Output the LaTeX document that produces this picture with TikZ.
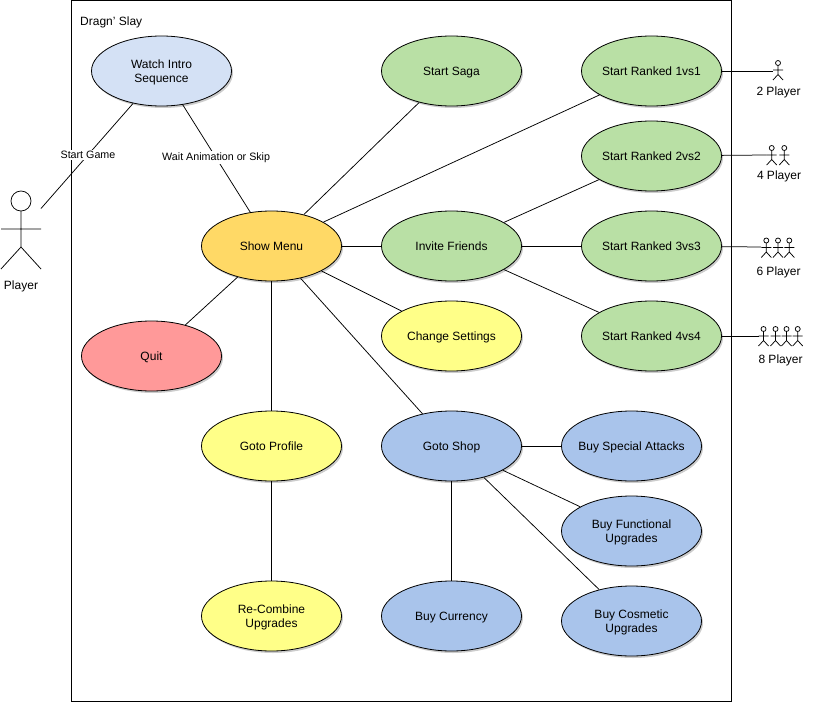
\documentclass[tikz,border=0pt]{standalone}
\usepackage{fontspec}
\setmainfont{Liberation Sans}
\definecolor{cintro}{HTML}{D4E1F5}
\definecolor{cgreen}{HTML}{B9E0A5}
\definecolor{cyellow}{HTML}{FFFF88}
\definecolor{corange}{HTML}{FFD966}
\definecolor{cred}{HTML}{FF9999}
\definecolor{cblue}{HTML}{A9C4EB}
\newcommand{\actorfig}[4]{% x, head y, half-width/5 scale, name
  \begin{scope}[shift={(#1,#2)},x=#3pt,y=-#3pt]
    \draw[actorline] (0,0) circle[radius=2.5];
    \draw[actorline] (0,2.5) -- (0,11.5) (-5,7) -- (5,7) (-5,17) -- (0,11.5) -- (5,17);
  \end{scope}}
\newcommand{\firstline}{\rule{0pt}{11pt}}
\tikzset{
  x=1pt,y=-1pt,
  usecase/.style={ellipse,draw=black,line width=0.8pt,minimum width=140pt,minimum height=70pt,inner sep=0pt,font=\fontsize{12}{14}\selectfont,text=black},
  onerow/.style={usecase,text height=8.6pt,text depth=0pt},
  tworow/.style={usecase,align=center},
  link/.style={draw=black,line width=0.75pt},
  actorline/.style={draw=black,line width=0.75pt},
  edgelabel/.style={fill=white,inner sep=1.5pt,font=\fontsize{10.7}{13}\selectfont,text=black},
  caption/.style={font=\fontsize{12}{14}\selectfont,text=black,inner sep=0pt},
  shade0/.style={fill=black,fill opacity=0.2,draw=none,ellipse,minimum width=140pt,minimum height=70pt,inner sep=0pt},
}
\usetikzlibrary{shapes.geometric}
\begin{document}
\begin{tikzpicture}
\useasboundingbox (0,0) rectangle (824,706);
\fill[white] (0,0) rectangle (824,706);
\draw[black,line width=1pt] (71.5,1) rectangle (731.5,701);
\node[caption,anchor=west] (title) at (80,22) {Dragn' Slay};
\begin{scope}[xshift=0.5pt]
% shadows
\foreach \px/\py in {161/71,451/71,651/71,651/156,451/246,651/246,651/336,271/246,151/356,451/336,271/446,451/446,631/446,631/531,631/621,451/616,271/616}
  \node[shade0] at (\px+1.5,\py+2) {};
% use cases
\node[tworow,fill=cintro] (intro) at (161,71) {\firstline Watch Intro\\Sequence};
\node[onerow,fill=cgreen] (saga) at (451,71) {Start Saga};
\node[onerow,fill=cgreen] (r1) at (651,71) {Start Ranked 1vs1};
\node[onerow,fill=cgreen] (r2) at (651,156) {Start Ranked 2vs2};
\node[onerow,fill=cgreen] (invite) at (451,246) {Invite Friends};
\node[onerow,fill=cgreen] (r3) at (651,246) {Start Ranked 3vs3};
\node[onerow,fill=cgreen] (r4) at (651,336) {Start Ranked 4vs4};
\node[onerow,fill=corange] (menu) at (271,246) {Show Menu};
\node[onerow,fill=cred] (quit) at (151,356) {Quit};
\node[onerow,fill=cyellow] (settings) at (451,336) {Change Settings};
\node[onerow,fill=cyellow] (profile) at (271,446) {Goto Profile};
\node[onerow,fill=cblue] (shop) at (451,446) {Goto Shop};
\node[onerow,fill=cblue] (special) at (631,446) {\makebox[60pt]{Buy Special Attacks}};
\node[tworow,fill=cblue] (functional) at (631,531) {\firstline Buy Functional\\Upgrades};
\node[tworow,fill=cblue] (cosmetic) at (631,621) {\firstline Buy Cosmetic\\Upgrades};
\node[onerow,fill=cblue] (currency) at (451,616) {Buy Currency};
\node[tworow,fill=cyellow] (recombine) at (271,616) {\firstline Re-Combine\\Upgrades};
\end{scope}
% actors
\actorfig{21}{201}{4}{player}
\actorfig{778}{63}{1}{a2}
\actorfig{771.7}{148}{1}{a4a}
\actorfig{784.3}{148}{1}{a4b}
\actorfig{766.3}{240.5}{1}{a6a}
\actorfig{778}{240.5}{1}{a6b}
\actorfig{789.3}{240.5}{1}{a6c}
\actorfig{763.5}{329}{1}{a8a}
\actorfig{775.5}{329}{1}{a8b}
\actorfig{786.5}{329}{1}{a8c}
\actorfig{797.7}{329}{1}{a8d}
\coordinate (pl) at (41,208.5);
\coordinate (p2) at (772.5,71);
\coordinate (p4) at (766.5,155);
\coordinate (p6) at (761,247);
\coordinate (p8) at (758.5,336);
\node[caption] (lplayer) at (21,286) {Player};
\node[caption] (l2) at (778.5,92) {2 Player};
\node[caption] (l4) at (779,176) {4 Player};
\node[caption] (l6) at (778.5,272) {6 Player};
\node[caption] (l8) at (780.5,360) {8 Player};
% connectors
\draw[link] (intro) -- (pl) node[pos=0.49,edgelabel] (startgame) {Start Game};
\draw[link] (intro) -- (menu) node[pos=0.495,edgelabel] (wait) {Wait Animation or Skip};
\draw[link] (menu) -- (saga);
\draw[link] (menu) -- (r1);
\draw[link] (menu) -- (invite);
\draw[link] (menu) -- (settings);
\draw[link] (menu) -- (quit);
\draw[link] (menu) -- (profile);
\draw[link] (menu) -- (shop);
\draw[link] (invite) -- (r2);
\draw[link] (invite) -- (r3);
\draw[link] (invite) -- (r4);
\draw[link] (profile) -- (recombine);
\draw[link] (shop) -- (special);
\draw[link] (shop) -- (functional);
\draw[link] (shop) -- (cosmetic);
\draw[link] (shop) -- (currency);
\draw[link] (r1) -- (p2);
\draw[link] (r2) -- (p4);
\draw[link] (r3) -- (p6);
\draw[link] (r4) -- (p8);
\end{tikzpicture}
\end{document}
